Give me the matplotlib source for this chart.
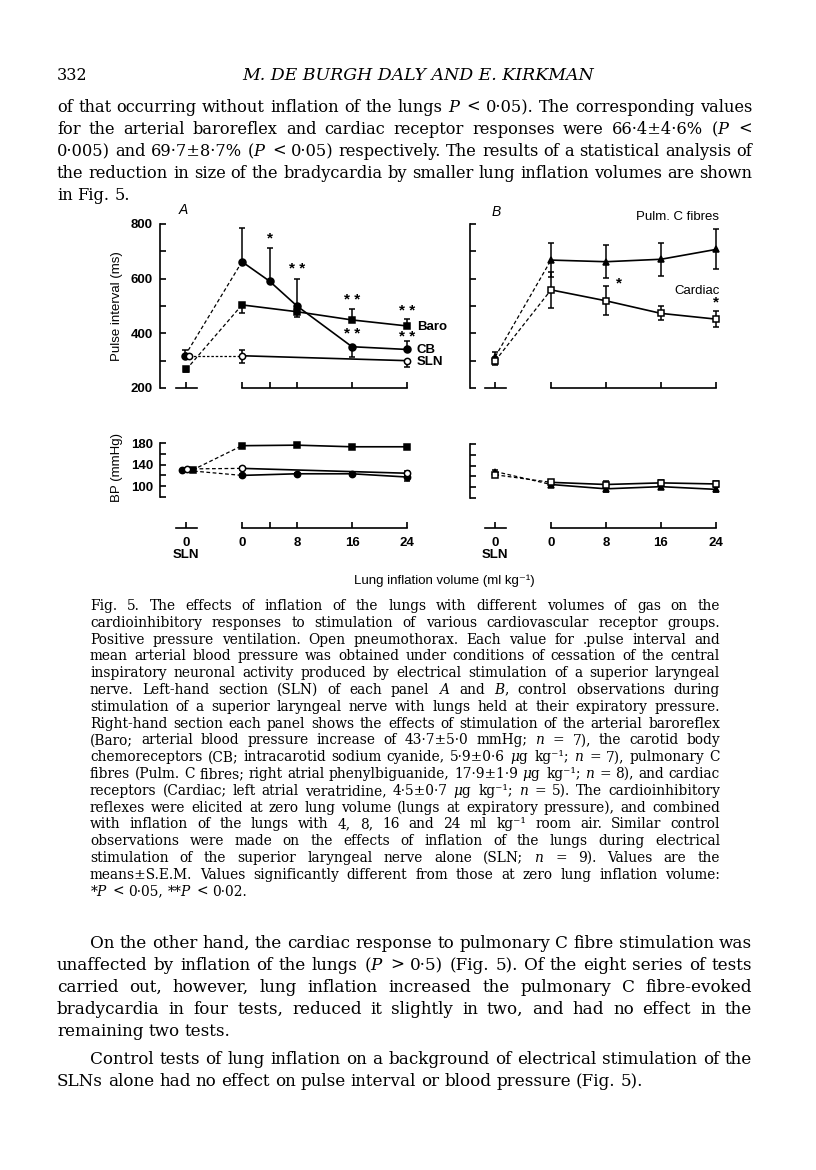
import matplotlib
matplotlib.use('Agg')
import matplotlib.pyplot as plt

W, H = 816, 1170
SANS = ['Liberation Sans', 'DejaVu Sans']
SERIF = ['DejaVu Serif', 'DejaVu Sans']
plt.rcParams['mathtext.fontset'] = 'custom'
plt.rcParams['mathtext.rm'] = 'DejaVu Serif'
plt.rcParams['mathtext.it'] = 'DejaVu Serif:italic'

# ---------------- data ----------------
SLN = -8.1          # x position of the SLN control point
vol_a = [0, 4, 8, 16, 24]
vol_b = [0, 8, 16, 24]

# Panel A, pulse interval (ms)
a_cb_x = [SLN, 0, 4, 8, 16, 24]
a_cb_pi = [318, 662, 591, 500, 351, 341]
a_cb_up = [20, 124, 120, 99, 0, 32]
a_cb_dn = [0, 0, 0, 0, 37, 0]

a_baro_x = [SLN, 0, 8, 16, 24]
a_baro_pi = [268, 504, 479, 449, 427]
a_baro_up = [0, 0, 0, 39, 25]
a_baro_dn = [10, 31, 20, 0, 0]

a_sln_x = [SLN, 0, 24]
a_sln_pi = [318, 318, 300]
a_sln_up = [0, 21, 0]
a_sln_dn = [0, 25, 22]

# Panel B, pulse interval (ms)
b_x = [SLN, 0, 8, 16, 24]
b_pulm_pi = [315, 668, 662, 671, 707]
b_pulm_err = [18, 61, 61, 61, 73]
b_card_pi = [300, 559, 519, 473, 452]
b_card_err = [15, 66, 53, 26, 30]

# Panel A, blood pressure (mmHg)
a_baro_bp = [130, 175, 176, 173, 173]
a_baro_bp_err = [2, 3, 3, 3, 3]
a_cb_bp = [130, 120, 123, 123, 117]
a_cb_bp_err = [0, 3, 2, 2, 7]
a_sln_bp = [132, 133, 124]
a_sln_bp_err = [2, 3, 4]

# Panel B, blood pressure (mmHg)
b_pulm_bp = [129, 105, 97, 101, 96]
b_pulm_bp_err = [3, 5, 6, 5, 4]
b_card_bp = [123, 109, 105, 108, 106]
b_card_bp_err = [3, 5, 6, 5, 5]

# ---------------- figure ----------------
fig = plt.figure(figsize=(W / 100, H / 100), dpi=100)
PX = 6.875  # pixels per ml/kg


def box(l, t, r, b):
    return fig.add_axes([l / W, 1 - b / H, (r - l) / W, (b - t) / H])


def style_y(ax, left, zero, lo, hi, major, minor, labels=True):
    ax.set_xlim((left - zero) / PX, (left + 280 - zero) / PX)
    ax.set_ylim(lo, hi)
    for s in ['top', 'right', 'bottom']:
        ax.spines[s].set_visible(False)
    ax.spines['left'].set_linewidth(1.2)
    ax.set_yticks(major)
    ax.set_yticks(minor, minor=True)
    ax.set_xticks([])
    ax.tick_params(axis='y', which='both', direction='in', length=4, width=1.2,
                   labelsize=9.5, pad=5)
    if labels:
        for t in ax.get_yticklabels():
            t.set_fontweight('bold')
            t.set_family(SANS)
    else:
        ax.set_yticklabels([])
    ax.patch.set_alpha(0)


def broken_axis(ax, ticks):
    tr = ax.get_xaxis_transform()
    kw = dict(color='k', lw=1.2, transform=tr, clip_on=False)
    ax.plot([SLN - 1.5, SLN + 1.5], [0, 0], **kw)
    ax.plot([0, 24], [0, 0], **kw)
    ax.plot([SLN] + ticks, [0] * (len(ticks) + 1), ls='none', marker=2, ms=4,
            mew=1.2, color='k', transform=tr, clip_on=False)


def series(ax, x, y, lo, hi, marker, mfc, ms=5, dx=0.0, dash=(0, (3, 2)), stars=()):
    xs = [x[0] + dx] + list(x[1:])
    ax.plot(xs[:2], y[:2], color='k', lw=0.9, ls=dash, clip_on=False)
    ax.plot(xs[1:], y[1:], color='k', lw=1.2, clip_on=False)
    ax.errorbar(xs, y, yerr=[lo, hi], fmt=marker, color='k', mfc=mfc, mec='k',
                mew=1.1, ms=ms, capsize=2, elinewidth=1.1, capthick=1.1,
                clip_on=False, zorder=3)
    for i, txt, ox, oy in stars:
        ax.annotate(txt, (xs[i], y[i] + hi[i]), xytext=(ox, oy),
                    textcoords='offset points', ha='center', va='center',
                    fontsize=11, fontweight='bold', family=SANS)


# --- Panel A pulse interval
axA = box(160, 224, 440, 388)
style_y(axA, 160, 242, 200, 800, [200, 400, 600, 800], [300, 500, 700])
broken_axis(axA, vol_a)
series(axA, a_cb_x, a_cb_pi, a_cb_dn, a_cb_up, 'o', 'k', dx=-0.2,
       stars=[(2, '*', 0, 7), (3, '* *', 0, 7), (4, '* *', 0, 9), (5, '* *', 0, 2.5)])
series(axA, a_baro_x, a_baro_pi, a_baro_dn, a_baro_up, 's', 'k', ms=4.5,
       stars=[(3, '* *', 0, 7), (4, '* *', 0, 6)])
series(axA, a_sln_x, a_sln_pi, a_sln_dn, a_sln_up, 'o', 'w', ms=4.5, dx=0.4,
       dash=(0, (2, 1.5)))
for txt, yv in [('Baro', 422), ('CB', 340), ('SLN', 294)]:
    axA.text(25.4, yv, txt, fontsize=9.5, fontweight='bold', family=SANS,
             ha='left', va='center')
axA.text(-8.6, 850, 'A', fontsize=10, fontstyle='italic', family=SANS,
         ha='center', va='center', clip_on=False)
fig.text(117 / W, 1 - 306 / H, 'Pulse interval (ms)', rotation=90, fontsize=9.5,
         family=SANS, ha='center', va='center')

# --- Panel B pulse interval
axB = box(470, 224, 750, 388)
style_y(axB, 470, 551, 200, 800, [200, 400, 600, 800], [300, 500, 700], labels=False)
broken_axis(axB, vol_b)
series(axB, b_x, b_pulm_pi, b_pulm_err, b_pulm_err, '^', 'k', ms=5)
series(axB, b_x, b_card_pi, b_card_err, b_card_err, 's', 'w', ms=4.5,
       stars=[(2, '*', 9, 2), (4, '*', 0, 6)])
axB.text(24.5, 827, 'Pulm. C fibres', fontsize=9.5, family=SANS,
         ha='right', va='center', clip_on=False)
axB.text(24.5, 556, 'Cardiac', fontsize=9.5, family=SANS, ha='right', va='center')
axB.text(-8.0, 843, 'B', fontsize=10, fontstyle='italic', family=SANS,
         ha='center', va='center', clip_on=False)

# --- Panel A blood pressure
axA2 = box(160, 443, 440, 497)
style_y(axA2, 160, 242, 80, 180, [100, 140, 180], [80, 120, 160])
series(axA2, b_x, a_baro_bp, a_baro_bp_err, a_baro_bp_err, 's', 'k', ms=4.5, dx=0.9)
series(axA2, b_x, a_cb_bp, a_cb_bp_err, a_cb_bp_err, 'o', 'k', ms=4.5, dx=-0.7)
series(axA2, a_sln_x, a_sln_bp, a_sln_bp_err, a_sln_bp_err, 'o', 'w', ms=4.5, dx=0.1)
fig.text(117 / W, 1 - 467 / H, 'BP (mmHg)', rotation=90, fontsize=9.5,
         family=SANS, ha='center', va='center')

# --- Panel B blood pressure
axB2 = box(470, 444, 750, 498)
style_y(axB2, 470, 551, 80, 180, [100, 140, 180], [80, 120, 160], labels=False)
series(axB2, b_x, b_pulm_bp, b_pulm_bp_err, b_pulm_bp_err, '^', 'k', ms=4.5)
series(axB2, b_x, b_card_bp, b_card_bp_err, b_card_bp_err, 's', 'w', ms=4.5)

# --- shared volume axes
for left, zero, ticks in [(160, 242, vol_a), (470, 551, vol_b)]:
    axx = box(left, 500, left + 280, 528)
    axx.set_xlim((left - zero) / PX, (left + 280 - zero) / PX)
    axx.set_ylim(0, 1)
    axx.axis('off')
    broken_axis(axx, ticks)
    for xv, lab in [(SLN, '0\nSLN'), (0, '0'), (8, '8'), (16, '16'), (24, '24')]:
        axx.annotate(lab, (xv, 0), xytext=(0, -6.5), textcoords='offset points',
                     ha='center', va='top', fontsize=9.5, fontweight='bold',
                     family=SANS, linespacing=1.05, annotation_clip=False)
fig.text(444 / W, 1 - 581 / H, 'Lung inflation volume (ml kg⁻¹)', fontsize=9.5,
         family=SANS, ha='center', va='center')

# ---------------- page text ----------------
renderer = fig.canvas.get_renderer()


def word_widths(words, size):
    out = []
    for w in words:
        t = fig.text(0, 0, w, fontsize=size, family=SERIF)
        out.append(t.get_window_extent(renderer).width)
        t.remove()
    return out


def fit_size(lines, x1, cap):
    # largest size at which every justified line fits with ordinary spaces
    best = cap
    for x0, text, just in lines:
        if not just:
            continue
        words = text.split()
        s10 = sum(word_widths(words, 10))
        per_pt = s10 / 10 + (len(words) - 1) * 0.30 * 100 / 72
        best = min(best, (x1 - x0) / per_pt)
    return best


def put_block(lines, x1, ys, cap):
    size = fit_size(lines, x1, cap)
    for (x0, text, just), yb in zip(lines, ys):
        words = text.split()
        ws = word_widths(words, size)
        gap = size * 0.30 * 100 / 72
        if just and len(words) > 1:
            gap = (x1 - x0 - sum(ws)) / (len(words) - 1)
        x = x0
        for w, wd in zip(words, ws):
            fig.text(x / W, 1 - yb / H, w, fontsize=size, family=SERIF, va='baseline')
            x += wd + gap


fig.text(57 / W, 1 - 80 / H, '332', fontsize=11.5, family=SERIF, va='baseline')
fig.text(418 / W, 1 - 80 / H, 'M. DE BURGH DALY AND E. KIRKMAN', fontsize=12.5,
         family=SERIF, fontstyle='italic', ha='center', va='baseline')

body1 = [
    (57, 'of that occurring without inflation of the lungs $P$ < 0·05). The corresponding values', True),
    (57, 'for the arterial baroreflex and cardiac receptor responses were 66·4±4·6% ($P$ <', True),
    (57, '0·005) and 69·7±8·7% ($P$ < 0·05) respectively. The results of a statistical analysis of', True),
    (57, 'the reduction in size of the bradycardia by smaller lung inflation volumes are shown', True),
    (57, 'in Fig. 5.', False),
]
put_block(body1, 752, [112 + 22 * i for i in range(len(body1))], 13.5)

caption_text = [
    'Fig. 5. The effects of inflation of the lungs with different volumes of gas on the',
    'cardioinhibitory responses to stimulation of various cardiovascular receptor groups.',
    'Positive pressure ventilation. Open pneumothorax. Each value for .pulse interval and',
    'mean arterial blood pressure was obtained under conditions of cessation of the central',
    'inspiratory neuronal activity produced by electrical stimulation of a superior laryngeal',
    'nerve. Left-hand section (SLN) of each panel $A$ and $B$, control observations during',
    'stimulation of a superior laryngeal nerve with lungs held at their expiratory pressure.',
    'Right-hand section each panel shows the effects of stimulation of the arterial baroreflex',
    '(Baro; arterial blood pressure increase of 43·7±5·0 mmHg; $n$ = 7), the carotid body',
    'chemoreceptors (CB; intracarotid sodium cyanide, 5·9±0·6 $\\mu$g kg⁻¹; $n$ = 7), pulmonary C',
    'fibres (Pulm. C fibres; right atrial phenylbiguanide, 17·9±1·9 $\\mu$g kg⁻¹; $n$ = 8), and cardiac',
    'receptors (Cardiac; left atrial veratridine, 4·5±0·7 $\\mu$g kg⁻¹; $n$ = 5). The cardioinhibitory',
    'reflexes were elicited at zero lung volume (lungs at expiratory pressure), and combined',
    'with inflation of the lungs with 4, 8, 16 and 24 ml kg⁻¹ room air. Similar control',
    'observations were made on the effects of inflation of the lungs during electrical',
    'stimulation of the superior laryngeal nerve alone (SLN; $n$ = 9). Values are the',
    'means±S.E.M. Values significantly different from those at zero lung inflation volume:',
    '*$P$ < 0·05, **$P$ < 0·02.',
]
caption = [(90, t, i < len(caption_text) - 1) for i, t in enumerate(caption_text)]
put_block(caption, 720, [610 + 16.8 * i for i in range(len(caption))], 11.0)

body2 = [
    (90, 'On the other hand, the cardiac response to pulmonary C fibre stimulation was', True),
    (57, 'unaffected by inflation of the lungs ($P$ > 0·5) (Fig. 5). Of the eight series of tests', True),
    (57, 'carried out, however, lung inflation increased the pulmonary C fibre-evoked', True),
    (57, 'bradycardia in four tests, reduced it slightly in two, and had no effect in the', True),
    (57, 'remaining two tests.', False),
    (90, 'Control tests of lung inflation on a background of electrical stimulation of the', True),
    (57, 'SLNs alone had no effect on pulse interval or blood pressure (Fig. 5).', False),
]
put_block(body2, 752, [948, 970, 992, 1014, 1036, 1064, 1086], 13.5)

fig.savefig('out.png', dpi=100, facecolor='white')
